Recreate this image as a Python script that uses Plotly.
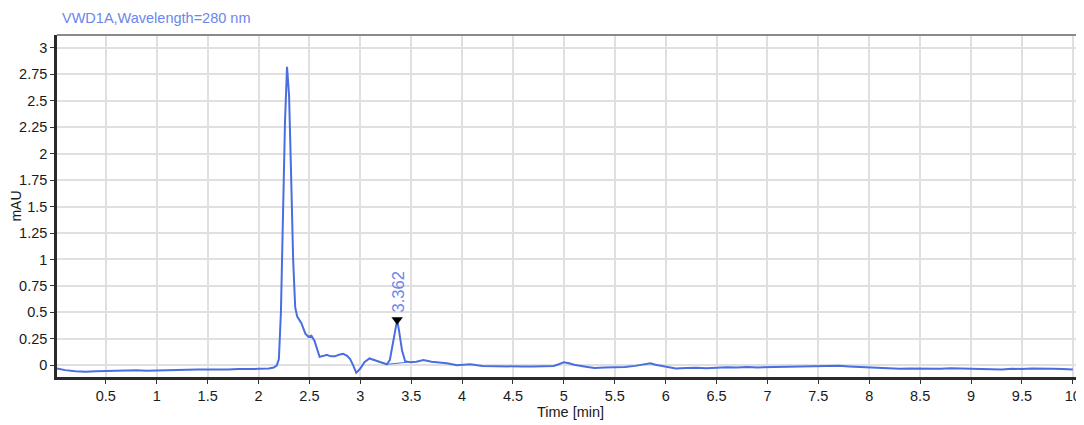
import plotly.graph_objects as go

time_min = [0.02, 0.1, 0.2, 0.3, 0.4, 0.5, 0.6, 0.7, 0.8, 0.9, 1.0, 1.1, 1.2, 1.3, 1.4, 1.5, 1.6, 1.7, 1.8,
            1.9, 2.0, 2.1, 2.15, 2.18, 2.2, 2.22, 2.24, 2.26, 2.28, 2.3, 2.32, 2.34, 2.36, 2.38, 2.42, 2.46,
            2.49, 2.52, 2.55, 2.58, 2.6, 2.64, 2.67, 2.71, 2.75, 2.79, 2.83, 2.87, 2.9, 2.93, 2.96, 3.0,
            3.04, 3.09, 3.14, 3.2, 3.26, 3.29, 3.32, 3.345, 3.362, 3.38, 3.41, 3.44, 3.49, 3.55, 3.62, 3.7,
            3.78, 3.85, 3.95, 4.08, 4.2, 4.3, 4.4, 4.5, 4.6, 4.7, 4.8, 4.9, 4.95, 5.0, 5.05, 5.1,
            5.2, 5.3, 5.4, 5.5, 5.6, 5.7, 5.8, 5.85, 5.9, 6.0, 6.1, 6.2, 6.3, 6.4, 6.5, 6.6, 6.7, 6.8, 6.9,
            7.0, 7.1, 7.2, 7.3, 7.4, 7.5, 7.6, 7.7, 7.8, 7.9, 8.0, 8.1, 8.2, 8.3, 8.4, 8.5, 8.6, 8.7, 8.8,
            8.9, 9.0, 9.1, 9.2, 9.3, 9.4, 9.5, 9.6, 9.7, 9.8, 9.9, 10.0]
signal_mau = [-0.03, -0.045, -0.055, -0.06, -0.055, -0.052, -0.05, -0.05, -0.047, -0.05, -0.047, -0.046,
              -0.042, -0.044, -0.04, -0.04, -0.036, -0.038, -0.035, -0.036, -0.033, -0.03, -0.02, 0.0,
              0.06, 0.5, 1.4, 2.3, 2.82, 2.55, 1.8, 1.0, 0.55, 0.46, 0.4, 0.3, 0.27, 0.28, 0.23, 0.15,
              0.08, 0.09, 0.1, 0.085, 0.085, 0.1, 0.11, 0.09, 0.06, 0.0, -0.07, -0.03, 0.03, 0.065, 0.05,
              0.03, 0.01, 0.05, 0.2, 0.36, 0.43, 0.33, 0.14, 0.04, 0.03, 0.035, 0.05, 0.035, 0.03, 0.02,
              0.0, 0.01, -0.005, -0.008, -0.01, -0.01, -0.012, -0.01, -0.008, -0.005, 0.01, 0.03,
              0.02, 0.005, -0.01, -0.025, -0.02, -0.018, -0.015, -0.005, 0.015, 0.02, 0.005, -0.01, -0.03,
              -0.025, -0.022, -0.028, -0.02, -0.018, -0.02, -0.015, -0.02, -0.018, -0.01, -0.012, -0.008,
              -0.005, -0.002, -0.006, -0.004, -0.01, -0.015, -0.02, -0.028, -0.03, -0.032, -0.03, -0.033,
              -0.03, -0.032, -0.028, -0.03, -0.025, -0.028, -0.035, -0.038, -0.032, -0.035, -0.03, -0.028,
              -0.032, -0.035, -0.04]

peak_time = [3.362]
peak_height = [0.43]
peak_label = ["3.362"]
baseline_time = [3.26, 3.47]
baseline_value = [0.01, 0.03]

x_ticks = [0.5 * i for i in range(1, 21)]
x_tick_text = ["0.5", "1", "1.5", "2", "2.5", "3", "3.5", "4", "4.5", "5", "5.5", "6", "6.5", "7",
               "7.5", "8", "8.5", "9", "9.5", "10"]
y_ticks = [0, 0.25, 0.5, 0.75, 1, 1.25, 1.5, 1.75, 2, 2.25, 2.5, 2.75, 3]
y_tick_text = ["0", "0.25", "0.5", "0.75", "1", "1.25", "1.5", "1.75", "2", "2.25", "2.5", "2.75", "3"]

blue = "#4a6ee0"
label_blue = "#6a86ee"

fig = go.Figure()
fig.add_trace(go.Scatter(x=time_min, y=signal_mau, mode="lines",
                         line=dict(color=blue, width=2), showlegend=False))
fig.add_trace(go.Scatter(x=baseline_time, y=baseline_value, mode="lines",
                         line=dict(color=blue, width=1), showlegend=False))
fig.add_trace(go.Scatter(x=peak_time, y=peak_height, mode="markers",
                         marker=dict(symbol="triangle-down", size=10, color="black"),
                         showlegend=False))
for t, h, lab in zip(peak_time, peak_height, peak_label):
    fig.add_annotation(x=t, y=h, text=lab, textangle=-90, showarrow=False,
                       yanchor="bottom", yshift=5, xshift=1,
                       font=dict(family="Arial", size=16.5, color=label_blue))

# The page body has an 8px margin; figure size/margins compensate so the
# plot area lands at screen x 57..1084, y 35..377.
fig.update_layout(
    width=1076, height=417,
    margin=dict(l=49, r=0, t=27, b=48),
    paper_bgcolor="white", plot_bgcolor="white",
    font=dict(family="Arial", size=14, color="#1a1a1a"),
    title=dict(text="VWD1A,Wavelength=280 nm", x=0, xref="paper", xanchor="left",
               y=1, yref="container", yanchor="top", pad=dict(t=5, l=5),
               font=dict(family="Arial", size=14.5, color=label_blue)),
    xaxis=dict(range=[0.02, 10.11], tickvals=x_ticks, ticktext=x_tick_text,
               showgrid=True, gridcolor="#e0e0e0", gridwidth=2,
               showline=True, linecolor="#2a2a2a", linewidth=2.5, mirror=False,
               ticks="outside", ticklen=4, tickcolor="#333", automargin=False,
               tickfont=dict(size=14.5),
               title=dict(text="Time [min]", standoff=1, font=dict(size=14.5)),
               zeroline=False),
    yaxis=dict(range=[-0.11, 3.12], tickvals=y_ticks, ticktext=y_tick_text,
               showgrid=True, gridcolor="#e0e0e0", gridwidth=2,
               showline=True, linecolor="#2a2a2a", linewidth=2.5, automargin=False,
               ticks="outside", ticklen=4, tickcolor="#333",
               tickfont=dict(size=14.5),
               title=dict(text="mAU", standoff=2, font=dict(size=14)),
               zeroline=False),
    shapes=[dict(type="line", xref="paper", yref="paper", x0=0, y0=1, x1=1, y1=1,
                 line=dict(color="#8a8a8a", width=2), layer="above")],
)

fig.write_html("out.html")
